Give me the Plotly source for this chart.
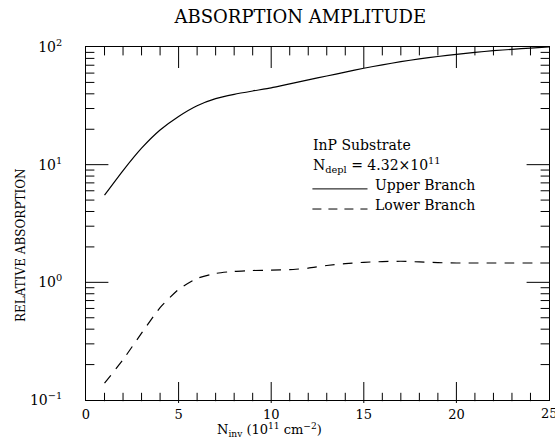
import plotly.graph_objects as go

# Data
n_inv = [1, 2, 3, 4, 5, 6, 7, 8, 9, 10, 11, 12, 13, 14, 15, 16, 17, 18, 19, 20, 21, 22, 23, 24, 25]
upper_branch = [5.5, 8.9, 13.8, 19.7, 25.7, 31.7, 36.4, 39.6, 42.3, 45, 48.6, 52.5, 56.7, 61.2, 66, 70.6,
                75, 79.4, 83, 86.7, 90, 93, 95.5, 98, 100]
lower_branch = [0.139, 0.22, 0.37, 0.61, 0.87, 1.08, 1.19, 1.24, 1.26, 1.27, 1.28, 1.32, 1.39, 1.44, 1.48,
                1.5, 1.51, 1.49, 1.47, 1.46, 1.46, 1.46, 1.46, 1.46, 1.46]

x_tickvals = [0, 5, 10, 15, 20]
y_tickvals = [0.1, 1, 10, 100]
y_ticktext = ["10<sup>\u22121</sup>", "10<sup>0</sup>", "10<sup>1</sup>", "10<sup>2</sup>"]

# inside tick marks (major / minor) on all four sides
x_major = [5, 10, 15, 20]
x_minor = [v for v in range(1, 25) if v % 5 != 0]
y_major = [1, 10]
y_minor = [k * 10.0 ** e for e in (-1, 0, 1) for k in range(2, 10)]

SERIF = "DejaVu Serif"
W, H = 555, 440
M_L, M_R, M_T, M_B = 86, 6, 47, 40
X_RANGE = [0, 25]
Y_RANGE = [-1, 2]
X_LO, X_HI = 0, 25
Y_LO, Y_HI = 0.1, 100
MAJOR_LEN, MINOR_LEN = 15, 6

# decades per pixel on the y axis, used to centre the bottom tick marks half a tick length above the axis
plot_h = H - M_T - M_B
dec_per_px = (Y_RANGE[1] - Y_RANGE[0]) / plot_h
y_bottom_major = Y_LO * 10 ** (dec_per_px * MAJOR_LEN / 2)
y_bottom_minor = Y_LO * 10 ** (dec_per_px * MINOR_LEN / 2)

fig = go.Figure()
fig.add_trace(go.Scatter(x=n_inv, y=upper_branch, mode="lines",
                         line=dict(color="black", width=1.2, shape="spline", smoothing=0.5), showlegend=False))
fig.add_trace(go.Scatter(x=n_inv, y=lower_branch, mode="lines",
                         line=dict(color="black", width=1.2, dash="10px,8px", shape="spline", smoothing=0.5),
                         showlegend=False))


def tick_trace(xs, ys, symbol, size, clip=True):
    return go.Scatter(x=xs, y=ys, mode="markers", cliponaxis=clip, hoverinfo="skip", showlegend=False,
                      marker=dict(symbol=symbol, size=size, color="black", line=dict(width=1, color="black")))


# bottom ticks (whole mark inside the plot)
fig.add_trace(tick_trace(x_major, [y_bottom_major] * len(x_major), "line-ns", MAJOR_LEN, clip=False))
fig.add_trace(tick_trace(x_minor, [y_bottom_minor] * len(x_minor), "line-ns", MINOR_LEN, clip=False))
# top ticks
fig.add_trace(tick_trace(x_major, [Y_HI] * len(x_major), "line-ns", 2 * MAJOR_LEN))
fig.add_trace(tick_trace(x_minor, [Y_HI] * len(x_minor), "line-ns", 2 * MINOR_LEN))
# left / right ticks
fig.add_trace(tick_trace([X_LO] * len(y_major) + [X_HI] * len(y_major), y_major * 2, "line-ew", 32))
fig.add_trace(tick_trace([X_LO] * len(y_minor) + [X_HI] * len(y_minor), y_minor * 2, "line-ew", 2 * MINOR_LEN))

fig.update_layout(
    width=W, height=H,
    margin=dict(l=M_L, r=M_R, t=M_T, b=M_B),
    paper_bgcolor="white", plot_bgcolor="white",
    font=dict(family=SERIF, color="black", size=13),
    title=dict(text="ABSORPTION AMPLITUDE", x=0.463, xref="paper", xanchor="center", y=0.963, yanchor="middle",
               font=dict(family=SERIF, size=18, color="black")),
    xaxis=dict(range=X_RANGE, tickmode="array", tickvals=x_tickvals, ticks="", showline=True, linecolor="black",
               mirror=True, showgrid=False, zeroline=False, ticklabelstandoff=2,
               tickfont=dict(family=SERIF, size=13)),
    yaxis=dict(type="log", range=Y_RANGE, tickmode="array", tickvals=y_tickvals, ticktext=y_ticktext, ticks="",
               showline=True, linecolor="black", mirror=True, showgrid=False, zeroline=False,
               ticklabelstandoff=20, tickfont=dict(family=SERIF, size=14)),
)

fig.add_annotation(text="25", xref="x", yref="paper", x=25, y=0, yshift=-13, xanchor="center", yanchor="middle",
                   showarrow=False, font=dict(family=SERIF, size=13))
fig.add_annotation(text="RELATIVE ABSORPTION", xref="paper", yref="paper", x=-0.142, y=0.44, textangle=-90,
                   showarrow=False, font=dict(family=SERIF, size=12), xanchor="center", yanchor="middle")
fig.add_annotation(text="N<sub>inv</sub> (10<sup>11</sup> cm<sup>\u22122</sup>)", xref="paper", yref="paper",
                   x=0.397, y=-0.086, showarrow=False, font=dict(family=SERIF, size=13),
                   xanchor="center", yanchor="middle")

fig.add_annotation(text="InP Substrate", xref="paper", yref="paper", x=0.487, y=0.722, xanchor="left",
                   yanchor="middle", showarrow=False, font=dict(family=SERIF, size=14))
fig.add_annotation(text="N<sub>depl</sub> = 4.32\u00d710<sup>11</sup>", xref="paper", yref="paper", x=0.487,
                   y=0.666, xanchor="left", yanchor="middle", showarrow=False, font=dict(family=SERIF, size=14))
fig.add_annotation(text="Upper Branch", xref="paper", yref="paper", x=0.619, y=0.609, xanchor="left",
                   yanchor="middle", showarrow=False, font=dict(family=SERIF, size=14))
fig.add_annotation(text="Lower Branch", xref="paper", yref="paper", x=0.619, y=0.552, xanchor="left",
                   yanchor="middle", showarrow=False, font=dict(family=SERIF, size=14))
fig.add_shape(type="line", xref="paper", yref="paper", x0=0.489, x1=0.608, y0=0.598, y1=0.598,
              line=dict(color="black", width=1))
fig.add_shape(type="line", xref="paper", yref="paper", x0=0.489, x1=0.608, y0=0.541, y1=0.541,
              line=dict(color="black", width=1, dash="9px,7px"))

fig.write_html("out.html")
